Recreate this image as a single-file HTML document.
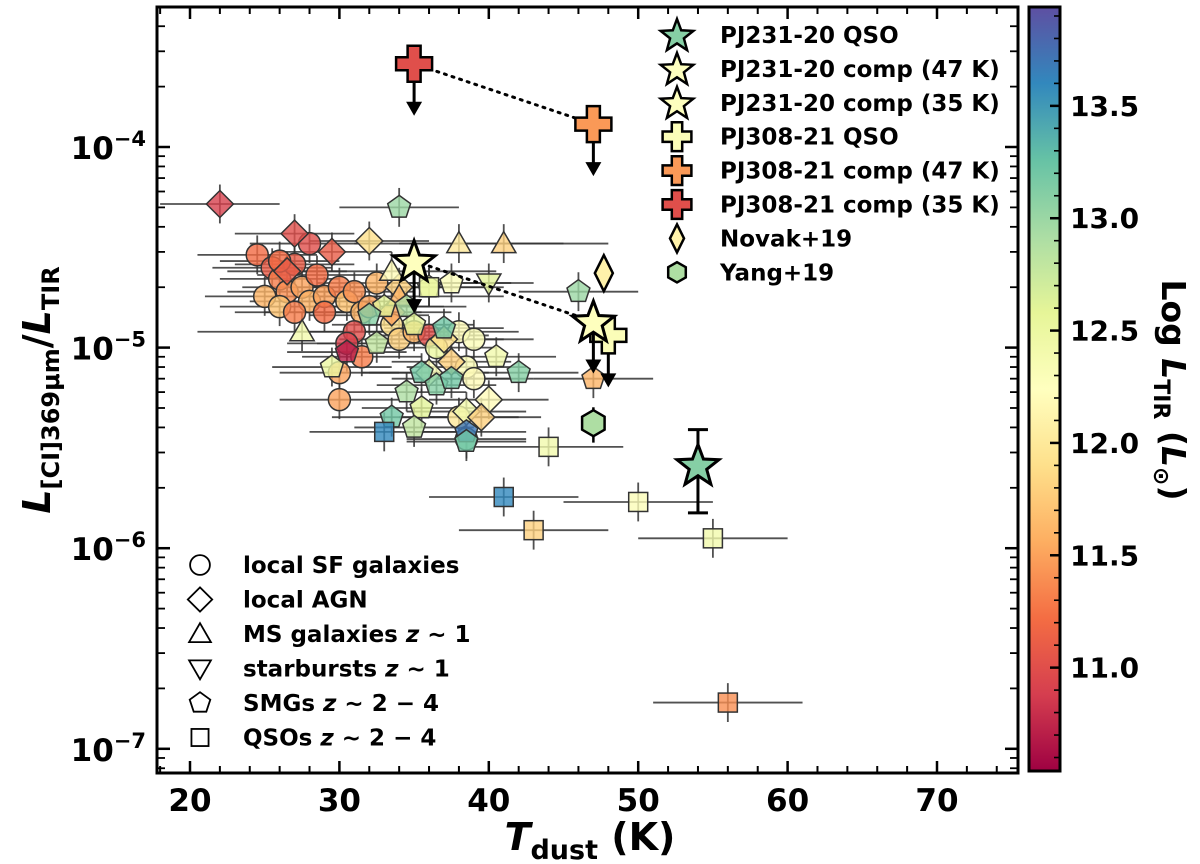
<!DOCTYPE html>
<html><head><meta charset="utf-8"><style>
body{margin:0;background:#fff}
svg{display:block}
text{font-family:"DejaVu Sans","Liberation Sans",sans-serif;font-weight:bold}
</style></head><body>
<svg id="chart" width="1200" height="864" viewBox="0 0 1200 864" xmlns="http://www.w3.org/2000/svg">
<defs>
<linearGradient id="cbgrad" x1="0" y1="1" x2="0" y2="0">
<stop offset="0" stop-color="#9e0142"/><stop offset="0.1" stop-color="#d53e4f"/><stop offset="0.2" stop-color="#f46d43"/><stop offset="0.3" stop-color="#fdae61"/><stop offset="0.4" stop-color="#fee08b"/><stop offset="0.5" stop-color="#ffffbf"/><stop offset="0.6" stop-color="#e6f598"/><stop offset="0.7" stop-color="#abdda4"/><stop offset="0.8" stop-color="#66c2a5"/><stop offset="0.9" stop-color="#3288bd"/><stop offset="1" stop-color="#5e4fa2"/>
</linearGradient>
<clipPath id="plotclip"><rect x="157" y="7" width="861" height="766"/></clipPath>
</defs>
<g id="marks" clip-path="url(#plotclip)"></g>
<g id="axes"></g>
<rect x="157" y="7" width="861" height="766" fill="none" stroke="#000" stroke-width="3"/>
<rect x="1029" y="7" width="31" height="764" fill="url(#cbgrad)" stroke="#000" stroke-width="3"/>
<g id="cbticks"></g>
<text x="590" y="850" text-anchor="middle" font-size="38"><tspan font-style="italic">T</tspan><tspan font-size="27" dy="9">dust</tspan><tspan dy="-9"> (K)</tspan></text>
<text transform="translate(50,390) rotate(-90)" text-anchor="middle" font-size="38"><tspan font-style="italic">L</tspan><tspan font-size="24" dy="9">[CI]369μm</tspan><tspan dy="-9">/</tspan><tspan font-style="italic">L</tspan><tspan font-size="24" dy="9">TIR</tspan></text>
<text transform="translate(1162,390) rotate(90)" text-anchor="middle" font-size="33">Log <tspan font-style="italic">L</tspan><tspan font-size="22" dy="8">TIR</tspan><tspan dy="-8"> (</tspan><tspan font-style="italic">L</tspan><tspan font-size="22" dy="8">⊙</tspan><tspan dy="-8">)</tspan></text>
<g id="legend1"></g>
<g id="legend2"></g>
</svg>
<script>
// ---- data ----
const sfT   = [24.5,25.5,26,26.5,27,27.5,28,28.5,29,30,30.5,31,31.5,32,25,26,27,29,31,30.5,31.5,30,30,33.5,34,35,36,36.5,38,39,38.5,39,38,38.5,28,26,32.5];
const sfL   = [2.9e-5,2.5e-5,2.2e-5,1.9e-5,2.6e-5,2.0e-5,1.7e-5,2.3e-5,1.8e-5,2.0e-5,1.7e-5,1.9e-5,1.5e-5,1.6e-5,1.8e-5,1.6e-5,1.5e-5,1.5e-5,1.2e-5,1.05e-5,9e-6,7.5e-6,5.5e-6,1.3e-5,1.1e-5,1.2e-5,1.15e-5,1.0e-5,1.2e-5,1.1e-5,8e-6,7e-6,4.5e-6,3.5e-6,3.3e-5,2.7e-5,2.1e-5];
const sfLir = [11.2,11.1,11.3,11.4,11.1,11.5,11.6,11.2,11.5,11.3,11.7,11.4,11.6,11.5,11.6,11.7,11.3,11.2,11.0,10.9,11.3,11.5,11.5,11.9,11.8,11.6,11.0,12.5,12.2,12.3,12.3,12.2,12.0,13.1,11.0,11.2,11.6];
const agnT   = [22,27,29.5,32,26.5,34,37,37.5,36,38.5,40,39.5,33.5];
const agnL   = [5.2e-5,3.7e-5,3.0e-5,3.4e-5,2.4e-5,2.0e-5,1.1e-5,8.5e-6,7.5e-6,4.8e-6,5.5e-6,4.5e-6,1.5e-5];
const agnLir = [10.9,11.0,11.1,11.9,11.1,11.8,11.9,11.8,12.3,12.4,12.2,11.8,11.5];
const msT   = [38,41,33.5,27.5,34];
const msL   = [3.3e-5,3.3e-5,2.4e-5,1.2e-5,1.8e-5];
const msLir = [12.0,11.8,12.2,12.4,11.6];
const sbT   = [40];
const sbL   = [2.1e-5];
const sbLir = [12.6];
const smgT   = [34,46,33,34.5,32,35,37,32.5,30.5,29.5,35.5,36.5,37.5,40.5,42,34.5,35.5,33.5,35,38.5,38.5,47,36,37.5];
const smgL   = [5.0e-5,1.9e-5,1.6e-5,1.6e-5,1.45e-5,1.3e-5,1.25e-5,1.05e-5,9.5e-6,8e-6,7.5e-6,6.5e-6,7e-6,9e-6,7.5e-6,6e-6,5e-6,4.5e-6,4.0e-6,3.8e-6,3.4e-6,7e-6,2.0e-5,2.1e-5];
const smgLir = [13.0,13.0,12.6,12.9,13.1,12.6,13.2,12.8,10.7,12.5,13.2,13.1,13.2,12.4,13.1,12.9,12.6,13.2,12.8,13.7,13.2,11.6,12.5,12.3];
const qsoT   = [33,44,41,50,43,55,56,36];
const qsoL   = [3.8e-6,3.2e-6,1.8e-6,1.7e-6,1.23e-6,1.12e-6,1.7e-7,2.0e-5];
const qsoLir = [13.6,12.4,13.6,12.3,11.8,12.4,11.4,12.5];
const sfXerr = 4, agnXerr = 4, msXerr = 7, sbXerr = 3, smgXerr = 4, qsoXerr = 5;
// targets
const starT = [54,47,35];
const starL = [2.6e-6,1.35e-5,2.7e-5];
const starLir = [13.1,12.25,12.25];
const starUpper = [false,true,true];
const crossT = [48,47,35];
const crossL = [1.15e-5,1.3e-4,2.6e-4];
const crossLir = [12.3,11.45,11.0];
const novakT = [47.7], novakL = [2.35e-5], novakLir = [12.1];
const yangT = [47], yangL = [4.2e-6], yangLir = [12.9];
const xTicks = [20,30,40,50,60,70];
const yTicks = [-4,-5,-6,-7];
const cbTicks = [11.0,11.5,12.0,12.5,13.0,13.5];

// ---- scales ----
const xs = t => 190 + (t-20)*14.94;
const ys = l => 147 - (Math.log10(l)+4)*200.6;
const VMIN=10.54, VMAX=13.94;
const cbY = v => 771 - (v-VMIN)/(VMAX-VMIN)*764;
const stops=["#9e0142","#d53e4f","#f46d43","#fdae61","#fee08b","#ffffbf","#e6f598","#abdda4","#66c2a5","#3288bd","#5e4fa2"];
function hex(c){return [1,3,5].map(i=>parseInt(c.substr(i,2),16));}
function cmap(v){let f=(v-VMIN)/(VMAX-VMIN);f=Math.max(0,Math.min(1,f))*10;let i=Math.min(9,Math.floor(f)),r=f-i;
 const a=hex(stops[i]),b=hex(stops[i+1]);return "rgb("+a.map((x,k)=>Math.round(x+(b[k]-x)*r)).join(",")+")";}
const NS="http://www.w3.org/2000/svg";
function mk(tag,attrs,parent){const e=document.createElementNS(NS,tag);for(const k in attrs)e.setAttribute(k,attrs[k]);parent.appendChild(e);return e;}
function polyPts(cx,cy,n,r,rot,inner){let p=[];const m=inner?2*n:n;for(let i=0;i<m;i++){const a=(rot+i*360/m)*Math.PI/180;const rr=inner&&i%2?r*inner:r;p.push((cx+rr*Math.cos(a)).toFixed(1)+","+(cy+rr*Math.sin(a)).toFixed(1));}return p.join(" ");}
function shape(type,cx,cy,fill,stroke,sw,parent,scale){
 scale=scale||1;let e;
 if(type==="o") e=mk("circle",{cx,cy,r:11*scale},parent);
 else if(type==="D") e=mk("polygon",{points:polyPts(cx,cy,4,13.5*scale,-90)},parent);
 else if(type==="^") e=mk("polygon",{points:polyPts(cx,cy+2*scale,3,14*scale,-90)},parent);
 else if(type==="v") e=mk("polygon",{points:polyPts(cx,cy-2*scale,3,14*scale,90)},parent);
 else if(type==="p") e=mk("polygon",{points:polyPts(cx,cy,5,12*scale,-90)},parent);
 else if(type==="s") e=mk("rect",{x:cx-9.5*scale,y:cy-9.5*scale,width:19*scale,height:19*scale},parent);
 else if(type==="h") e=mk("polygon",{points:polyPts(cx,cy,6,13*scale,-90)},parent);
 else if(type==="*") e=mk("polygon",{points:polyPts(cx,cy+1.5*scale,5,22*scale,-90,0.42)},parent);
 else if(type==="d") e=mk("polygon",{points:`${cx},${cy-18*scale} ${cx+9*scale},${cy} ${cx},${cy+18*scale} ${cx-9*scale},${cy}`},parent);
 else if(type==="P"){const a=18*scale,b=6.5*scale;e=mk("polygon",{points:`${cx-b},${cy-a} ${cx+b},${cy-a} ${cx+b},${cy-b} ${cx+a},${cy-b} ${cx+a},${cy+b} ${cx+b},${cy+b} ${cx+b},${cy+a} ${cx-b},${cy+a} ${cx-b},${cy+b} ${cx-a},${cy+b} ${cx-a},${cy-b} ${cx-b},${cy-b}`},parent);}
 e.setAttribute("fill",fill);e.setAttribute("stroke",stroke);e.setAttribute("stroke-width",sw);
 return e;
}
const marks=document.getElementById("marks");
const errG=mk("g",{},marks);


const ptG=mk("g",{},marks);


function group(T,L,Lir,type,xerr,name){
 T.forEach((t,i)=>{
  const cx=xs(t),cy=ys(L[i]);
  mk("line",{x1:xs(t-xerr),x2:xs(t+xerr),y1:cy,y2:cy,stroke:"#333","stroke-width":1.8,"stroke-opacity":0.85},errG);
  mk("line",{x1:cx,x2:cx,y1:ys(L[i]*1.25),y2:ys(L[i]/1.25),stroke:"#333","stroke-width":1.8,"stroke-opacity":0.85},errG);
  const e=shape(type,cx,cy,cmap(Lir[i]),"#333",1.5,ptG);
  e.setAttribute("fill-opacity","0.8");
  
  
 });
}
group(sfT,sfL,sfLir,"o",sfXerr,"local-sf");
group(agnT,agnL,agnLir,"D",agnXerr,"local-agn");
group(msT,msL,msLir,"^",msXerr,"ms-galaxy");
group(sbT,sbL,sbLir,"v",sbXerr,"starburst");
group(smgT,smgL,smgLir,"p",smgXerr,"smg");
group(qsoT,qsoL,qsoLir,"s",qsoXerr,"qso");

// targets
const tg=mk("g",{},marks);


function dotted(x1,y1,x2,y2){mk("line",{x1,y1,x2,y2,stroke:"#000","stroke-width":3,"stroke-dasharray":"2,6","stroke-linecap":"round"},tg);}
dotted(xs(crossT[2]),ys(crossL[2]),xs(crossT[1]),ys(crossL[1]));
dotted(xs(starT[2]),ys(starL[2]),xs(starT[1]),ys(starL[1]));
function arrow(x,y){const y2=y+50;mk("line",{x1:x,x2:x,y1:y,y2:y2-10,stroke:"#000","stroke-width":3},tg);mk("polygon",{points:`${x-8},${y2-12} ${x+8},${y2-12} ${x},${y2+2}`,fill:"#000"},tg);}
novakT.forEach((t,i)=>{const e=shape("d",xs(t),ys(novakL[i]),cmap(novakLir[i]),"#000",2.5,tg);});
yangT.forEach((t,i)=>{const cx=xs(t),cy=ys(yangL[i]);mk("line",{x1:cx,x2:cx,y1:ys(yangL[i]*1.2),y2:ys(yangL[i]/1.25),stroke:"#000","stroke-width":2.5},tg);
 const e=shape("h",cx,cy,cmap(yangLir[i]),"#000",2.5,tg);});
crossT.forEach((t,i)=>{const cx=xs(t),cy=ys(crossL[i]);arrow(cx,cy);
 const e=shape("P",cx,cy,cmap(crossLir[i]),"#000",2.5,tg);});
starT.forEach((t,i)=>{const cx=xs(t),cy=ys(starL[i]);
 if(starUpper[i]) arrow(cx,cy);
 else{const y1=ys(3.9e-6),y2=ys(1.5e-6);mk("line",{x1:cx,x2:cx,y1,y2,stroke:"#000","stroke-width":3},tg);
  mk("line",{x1:cx-10,x2:cx+10,y1,y2:y1,stroke:"#000","stroke-width":3},tg);mk("line",{x1:cx-10,x2:cx+10,y1:y2,y2,stroke:"#000","stroke-width":3},tg);}
 const e=shape("*",cx,cy,cmap(starLir[i]),"#000",3,tg);});

// axes ticks
const ax=document.getElementById("axes");
xTicks.forEach(t=>{const x=xs(t);mk("line",{x1:x,x2:x,y1:773,y2:761,stroke:"#000","stroke-width":2.5},ax);mk("line",{x1:x,x2:x,y1:7,y2:19,stroke:"#000","stroke-width":2.5},ax);
 const tx=mk("text",{x,y:811,"text-anchor":"middle","font-size":31},ax);tx.textContent=t;
 
 });
for(let t=18;t<=75;t+=2){if(t%10===0)continue;const x=xs(t);mk("line",{x1:x,x2:x,y1:773,y2:766,stroke:"#000","stroke-width":2},ax);mk("line",{x1:x,x2:x,y1:7,y2:14,stroke:"#000","stroke-width":2},ax);}
yTicks.forEach(p=>{const y=ys(Math.pow(10,p));mk("line",{x1:157,x2:170,y1:y,y2:y,stroke:"#000","stroke-width":2.5},ax);mk("line",{x1:1018,x2:1005,y1:y,y2:y,stroke:"#000","stroke-width":2.5},ax);
 const tx=mk("text",{x:146,y:y+12,"text-anchor":"end","font-size":31},ax);tx.innerHTML='10<tspan dy="-13" font-size="21">−'+(-p)+'</tspan>';
 
 });
for(let p=-8;p<=-3;p++)for(let m=2;m<10;m++){const y=ys(m*Math.pow(10,p));if(y<8||y>772)continue;mk("line",{x1:157,x2:165,y1:y,y2:y,stroke:"#000","stroke-width":1.8},ax);mk("line",{x1:1018,x2:1010,y1:y,y2:y,stroke:"#000","stroke-width":1.8},ax);}
const cbt=document.getElementById("cbticks");
cbTicks.forEach(v=>{const y=cbY(v);mk("line",{x1:1060,x2:1050,y1:y,y2:y,stroke:"#000","stroke-width":2.5},cbt);
 const tx=mk("text",{x:1070,y:y+10,"font-size":28},cbt);tx.textContent=v.toFixed(1);
 
 });
for(let v=10.6;v<13.95;v+=0.1){const y=cbY(v);mk("line",{x1:1060,x2:1054,y1:y,y2:y,stroke:"#000","stroke-width":1.6},cbt);}

// legends
const l1=document.getElementById("legend1");
const l1items=[["o","local SF galaxies"],["D","local AGN"],["^","MS galaxies z ~ 1"],["v","starbursts z ~ 1"],["p","SMGs z ~ 2 − 4"],["s","QSOs z ~ 2 − 4"]];
l1items.forEach((it,i)=>{const y=565+i*34.5;const g=mk("g",{},l1);
 
 
 shape(it[0],200,y,"none","#000",1.8,g,0.9);
 const tx=mk("text",{x:243,y:y+8,"font-size":23},g);tx.innerHTML=it[1].replace(/z/,'<tspan font-style="italic">z</tspan>');});
const l2=document.getElementById("legend2");
const l2items=[["*",13.1,"PJ231-20 QSO"],["*",12.25,"PJ231-20 comp (47 K)"],["*",12.25,"PJ231-20 comp (35 K)"],["P",12.3,"PJ308-21 QSO"],["P",11.45,"PJ308-21 comp (47 K)"],["P",11.0,"PJ308-21 comp (35 K)"],["d",12.1,"Novak+19"],["h",12.9,"Yang+19"]];
l2items.forEach((it,i)=>{const y=35+i*33.9;const g=mk("g",{},l2);
 
 
 shape(it[0],677,y,cmap(it[1]),"#000",2.5,g,it[0]==="*"?0.78:(it[0]==="P"?0.8:0.78));
 const tx=mk("text",{x:720,y:y+8,"font-size":23},g);tx.textContent=it[2];});
</script>
</body></html>
